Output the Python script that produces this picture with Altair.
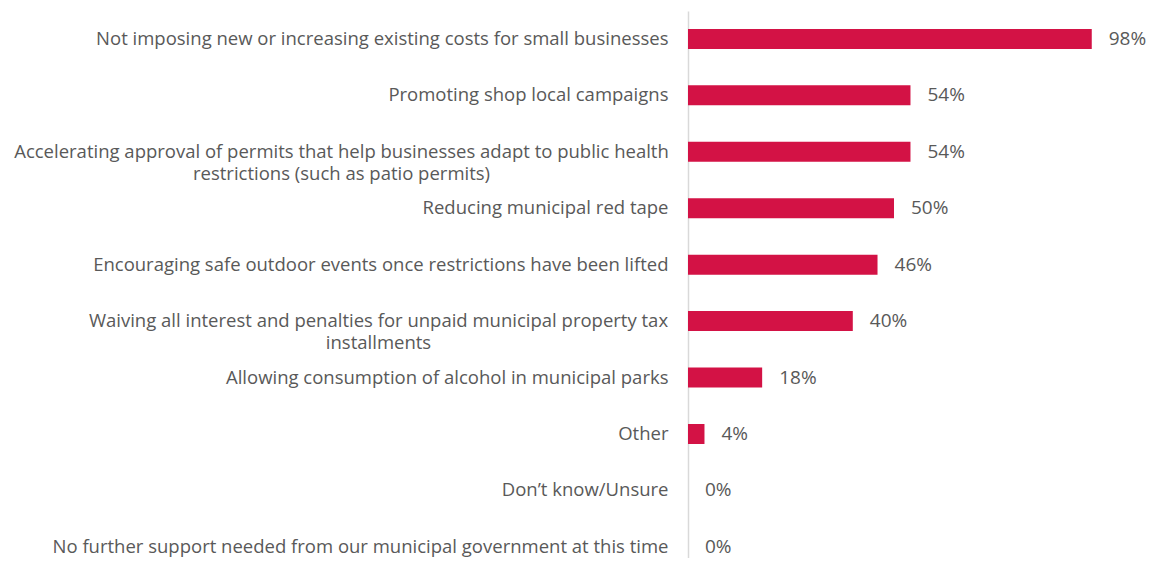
import altair as alt
import pandas as pd

categories = [
    "Not imposing new or increasing existing costs for small businesses",
    "Promoting shop local campaigns",
    "Accelerating approval of permits that help businesses adapt to public health|restrictions (such as patio permits)",
    "Reducing municipal red tape",
    "Encouraging safe outdoor events once restrictions have been lifted",
    "Waiving all interest and penalties for unpaid municipal property tax|installments",
    "Allowing consumption of alcohol in municipal parks",
    "Other",
    "Don\u2019t know/Unsure",
    "No further support needed from our municipal government at this time",
]
values = [98, 54, 54, 50, 46, 40, 18, 4, 0, 0]

df = pd.DataFrame({"category": categories, "value": values})
df["label"] = df["value"].astype(str) + "%"

FONT = "Open Sans"
GRAY = "#595959"
RED = "#D31245"

wrapA = categories[2]
wrapW = categories[5]
testA = f"datum.value == '{wrapA}'"
testW = f"datum.value == '{wrapW}'"

y_enc = alt.Y(
    "category:N",
    sort=categories,
    title=None,
    scale=alt.Scale(paddingInner=0.6457, paddingOuter=0.169, align=0.94),
    axis=alt.Axis(
        domainColor="#D9D9D9",
        domainWidth=1.5,
        ticks=False,
        labelPadding={
            "condition": [
                {"test": testA, "value": 347},
                {"test": testW, "value": 310},
            ],
            "value": 20,
        },
        labelAlign={
            "condition": {"test": f"{testA} || {testW}", "value": "center"},
            "value": "right",
        },
        labelFont=FONT,
        labelFontSize=18.5,
        labelColor=GRAY,
        labelLimit=0,
        labelLineHeight=22,
        labelExpr="split(datum.label, '|')",
    ),
)

x_enc = alt.X(
    "value:Q",
    title=None,
    scale=alt.Scale(domain=[0, 100], nice=False),
    axis=None,
)

bars = alt.Chart(df).mark_bar(color=RED).encode(x=x_enc, y=y_enc)
text = alt.Chart(df).mark_text(
    align="left", baseline="middle", dx=17, font=FONT, fontSize=19, color=GRAY
).encode(x="value:Q", y=alt.Y("category:N", sort=categories), text="label:N")

chart = (
    alt.layer(bars, text)
    .properties(
        width=412,
        height=547,
        autosize=alt.AutoSizeParams(type="none"),
        padding={"left": 680, "top": 3, "right": 46, "bottom": 0},
    )
    .configure_view(stroke=None)
)

chart.save("out.html", embed_options={"renderer": "svg", "actions": False})
